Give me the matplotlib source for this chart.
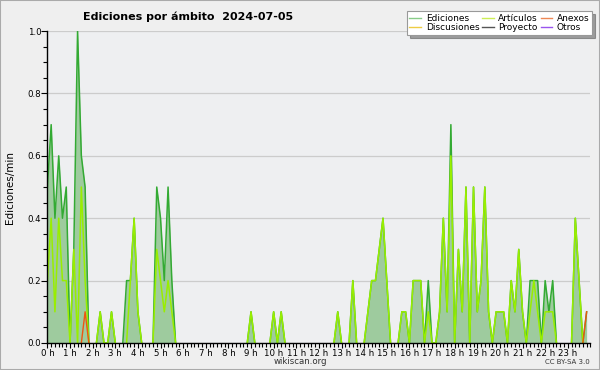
import numpy as np
import matplotlib
matplotlib.use("Agg")
import matplotlib.pyplot as plt
from matplotlib.lines import Line2D
from matplotlib.ticker import MultipleLocator, FormatStrFormatter

# 10-minute slots (144 per day); values in edits/min
n_slots = 144
edits_pts = {0: 0.5, 1: 0.7, 2: 0.4, 3: 0.6, 4: 0.4, 5: 0.5, 7: 0.3, 8: 1.0, 9: 0.6, 10: 0.5,
             14: 0.1, 17: 0.1, 21: 0.2, 22: 0.2, 23: 0.4, 24: 0.1,
             29: 0.5, 30: 0.4, 31: 0.2, 32: 0.5, 33: 0.2,
             54: 0.1, 60: 0.1, 62: 0.1, 77: 0.1, 81: 0.2,
             85: 0.1, 86: 0.2, 87: 0.2, 88: 0.3, 89: 0.4, 90: 0.2,
             94: 0.1, 95: 0.1, 97: 0.2, 98: 0.2, 99: 0.2, 101: 0.2,
             104: 0.1, 105: 0.4, 106: 0.1, 107: 0.7, 109: 0.3, 110: 0.1, 111: 0.5,
             113: 0.5, 114: 0.1, 115: 0.2, 116: 0.5, 117: 0.1,
             119: 0.1, 120: 0.1, 121: 0.1, 123: 0.2, 124: 0.1, 125: 0.3, 126: 0.1,
             128: 0.2, 129: 0.2, 130: 0.2, 132: 0.2, 133: 0.1, 134: 0.2,
             140: 0.4, 141: 0.2, 143: 0.1}
articles_pts = {0: 0.2, 1: 0.4, 2: 0.1, 3: 0.4, 4: 0.2, 5: 0.2, 7: 0.3, 9: 0.5, 10: 0.2,
                14: 0.1, 17: 0.1, 22: 0.2, 23: 0.4, 24: 0.1,
                29: 0.3, 30: 0.2, 31: 0.1, 32: 0.2, 33: 0.1,
                54: 0.1, 60: 0.1, 62: 0.1, 77: 0.1, 81: 0.2,
                85: 0.1, 86: 0.2, 87: 0.2, 88: 0.3, 89: 0.4, 90: 0.2,
                94: 0.1, 95: 0.1, 97: 0.2, 98: 0.2, 99: 0.2, 101: 0.1,
                104: 0.1, 105: 0.4, 106: 0.1, 107: 0.6, 109: 0.3, 110: 0.1, 111: 0.5,
                113: 0.5, 114: 0.1, 115: 0.2, 116: 0.5, 117: 0.1,
                119: 0.1, 120: 0.1, 121: 0.1, 123: 0.2, 124: 0.1, 125: 0.3, 126: 0.1,
                128: 0.1, 129: 0.2, 130: 0.1, 132: 0.1, 133: 0.1, 134: 0.1,
                140: 0.4, 141: 0.2}
annexes_pts = {10: 0.1, 143: 0.1}

hour_labels = [f"{h} h" for h in range(24)]
legend_labels = ["Ediciones", "Discusiones", "Artículos", "Proyecto", "Anexos", "Otros"]

def series(pts):
    v = np.zeros(n_slots)
    for k, val in pts.items():
        v[k] = val
    return v

def hide_flat_zero(v):
    # do not draw line segments lying on the baseline (axis stays visible)
    out = v.copy()
    padded = np.concatenate([[0.0], v, [0.0]])
    mask = (v == 0) & (padded[:-2] == 0) & (padded[2:] == 0)
    out[mask] = np.nan
    return out

edits = series(edits_pts)
articles = series(articles_pts)
annexes = series(annexes_pts)
x = np.arange(n_slots) / 6.0

plt.rcParams['font.family'] = ['DejaVu Sans']
fig = plt.figure(figsize=(6, 3.7), dpi=100, facecolor='#efefef')
ax = fig.add_axes([0.079, 0.073, 0.905, 0.843])
ax.set_facecolor('#eeeff1')

ax.fill_between(x, 0, edits, color='#9ecb9e', lw=0, zorder=2)
ax.plot(x, hide_flat_zero(edits), color='#33aa33', lw=1.1, zorder=3)
ax.plot(x, hide_flat_zero(articles), color='#99ee00', lw=1.1, zorder=4)
ax.plot(x, hide_flat_zero(annexes), color='#ee5511', lw=1.0, zorder=5)

ax.set_xlim(0, 24)
ax.set_ylim(0, 1.0)
ax.yaxis.set_major_locator(MultipleLocator(0.2))
ax.yaxis.set_minor_locator(MultipleLocator(0.05))
ax.yaxis.set_major_formatter(FormatStrFormatter('%.1f'))
ax.set_xticks(range(24))
ax.set_xticklabels(hour_labels)
ax.xaxis.set_minor_locator(MultipleLocator(1 / 6))
ax.tick_params(axis='both', which='major', labelsize=6.2, length=4, width=0.8, pad=0.5, colors='black')
ax.tick_params(axis='x', which='major', length=3.5)
ax.tick_params(axis='both', which='minor', length=3, width=0.8)
ax.grid(axis='y', color='#cccccc', lw=0.9, zorder=1)
for s in ['top', 'right']:
    ax.spines[s].set_visible(False)
for s in ['left', 'bottom']:
    ax.spines[s].set_linewidth(1.0)
    ax.spines[s].set_zorder(6)

ax.set_ylabel("Ediciones/min", fontsize=7.5)
ax.yaxis.set_label_coords(-0.06, 0.5)

fig.text(0.314, 0.955, "Ediciones por ámbito  2024-07-05", fontsize=8,
         fontweight='bold', ha='center', va='center')
fig.text(0.5, 0.022, "wikiscan.org", fontsize=6.2, ha='center', va='center', color='#333333')
fig.text(0.983, 0.021, "CC BY-SA 3.0", fontsize=5, ha='right', va='center', color='#333333')

leg_colors = ['#88cc88', '#eecc44', '#ccee55', '#555555', '#ee8855', '#9955ee']
handles = [Line2D([0], [0], color=c, lw=1) for c in leg_colors]
leg = fig.legend(handles, legend_labels, ncol=3, loc='upper right',
                 bbox_to_anchor=(0.987, 0.97), fontsize=6.5, frameon=True, shadow=True,
                 fancybox=False, handlelength=1.3, handletextpad=0.5, columnspacing=0.3,
                 labelspacing=0.05, borderpad=0.3, borderaxespad=0.0)
leg.get_frame().set_edgecolor('#999999')
leg.get_frame().set_linewidth(0.8)

fig.patches.append(matplotlib.patches.Rectangle((0, 0), 1, 1, transform=fig.transFigure,
                                                fill=False, edgecolor='#aaaaaa', lw=1.5))
fig.savefig("out.png", dpi=100, facecolor=fig.get_facecolor())
